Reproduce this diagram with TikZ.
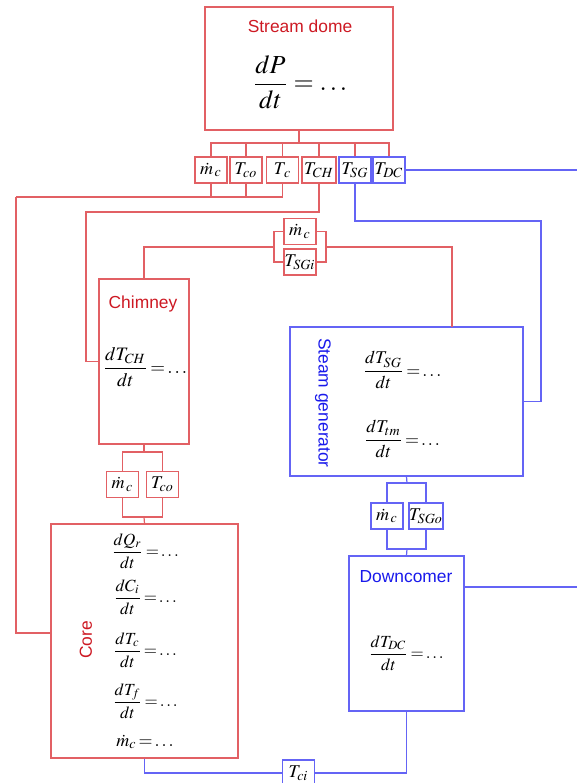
\documentclass[tikz,border=0pt]{standalone}
\usepackage{mathptmx}
\usepackage{fontspec}
\setmainfont{Liberation Serif}
\setsansfont{Liberation Sans}
\definecolor{lred}{RGB}{226,96,100}
\definecolor{tred}{RGB}{205,25,35}
\definecolor{lblue}{RGB}{100,100,245}
\definecolor{tblue}{RGB}{25,25,235}
\newcommand{\eqdots}{\mkern-2mu=\mkern-2mu\ldots}
\tikzset{
  block/.style={draw, line width=0.6pt, inner sep=0pt},
  var/.style={draw, line width=0.6pt, inner sep=0pt, minimum width=16pt, minimum height=13pt, font=\fontsize{9}{10}\selectfont},
  title/.style={inner sep=0pt, font=\fontsize{8.7}{10}\sffamily},
  eq/.style={inner sep=0pt, font=\fontsize{#1}{#1}\selectfont},
  redline/.style={draw=lred, line width=0.6pt},
  blueline/.style={draw=lblue, line width=0.6pt}
}
\begin{document}
\begin{tikzpicture}[x=0.5pt, y=-0.5pt]
      \useasboundingbox (0,0) rectangle (577,783);
      %%dome
      \node[block, draw=lred, minimum width=94pt, minimum height=61.5pt] (dome) at (299,68.5) {};
      \node[title, text=tred] (dometitle) at (300,26) {Stream dome};
      \node[eq=13] (domeeq) at (300,82) {$\displaystyle\frac{dP}{dt}=\ldots$};
        \node[var, draw=lred] (mc1) at (211,170) {$\dot{m}_{\,c}$};
        \node[var, draw=lred] (Tco1) at (246,170) {$T_{co}$};
        \node[var, draw=lred] (Tc1) at (282.5,170) {$T_{\,c}$};
        \node[var, draw=lred, minimum width=17pt] (TCH1) at (319,170) {$T_{CH}$};
        \node[var, draw=lblue] (TSG1) at (355,170) {$T_{SG}$};
        \node[var, draw=lblue] (TDC1) at (389,170) {$T_{DC}$};
      \coordinate (domej) at (299,143);
      \draw[redline] (dome.south) -- (domej);
      \foreach \v in {mc1,Tco1,Tc1,TCH1,TSG1,TDC1}
        \draw[redline] (\v.north) |- (domej);

      %%chimney
      \node[block, draw=lred, minimum width=45pt, minimum height=82.5pt] (chimney) at (144,361.5) {};
      \node[title, text=tred] (chtitle) at (143,304) {Chimney};
      \node[eq=9.5] (cheq) at (145,367) {$\displaystyle\frac{dT_{CH}}{dt}\eqdots$};
        \node[var, draw=lred] (mc2) at (300,231.5) {$\dot{m}_{\,c}$};
        \node[var, draw=lred] (TSGi) at (300,262) {$T_{SGi}$};
      \coordinate (brL) at (274,247);
      \coordinate (brR) at (326,247);
      \draw[redline] (mc2.west) -| (brL) (TSGi.west) -| (brL);
      \draw[redline] (mc2.east) -| (brR) (TSGi.east) -| (brR);
      \draw[redline] (brL) -| (chimney.north);

      %%steam generator
      \node[block, draw=lblue, minimum width=116.5pt, minimum height=74.5pt] (sg) at (406.5,401.5) {};
      \node[title, text=tblue, rotate=-90] (sgtitle) at (323,403) {Steam generator};
      \node[eq=9] (sgeq1) at (402,370) {$\displaystyle\frac{dT_{SG}}{dt}\eqdots$};
      \node[eq=9] (sgeq2) at (402,439) {$\displaystyle\frac{dT_{tm}}{dt}\eqdots$};
      \coordinate (sgtop) at (452,327);
      \draw[redline] (brR) -| (sgtop);

      %%links from dome row
      \coordinate (corej) at (16,197);
      \coordinate (corein) at (16,633);
      \foreach \v in {mc1,Tco1,Tc1}
        \draw[redline] (\v.south) |- (corej);
      \coordinate (chj) at (86,212);
      \draw[redline] (TCH1.south) |- (chj) |- (chimney.west);
      \coordinate (sgj) at (541,221);
      \draw[blueline] (TSG1.south) |- (sgj) |- (sg.east);
      \coordinate (dcout1) at (577,170);
      \draw[blueline] (TDC1.east) -- (dcout1);

      %%chimney to core
        \node[var, draw=lred] (mc3) at (122.5,484.5) {$\dot{m}_{\,c}$};
        \node[var, draw=lred] (Tco3) at (162.5,484.5) {$T_{co}$};
      \coordinate (chb) at (144,452);
      \coordinate (cot) at (144,517);
      \draw[redline] (chimney.south) -- (chb);
      \draw[redline] (mc3.north) |- (chb) -| (Tco3.north);
      \draw[redline] (mc3.south) |- (cot) -| (Tco3.south);

      %%core
      \node[block, draw=lred, minimum width=93.5pt, minimum height=117pt] (core) at (144.5,641) {};
      \node[title, text=tred, rotate=90] (coretitle) at (86,640) {Core};
      \node[eq=8.5] (coreeq1) at (145,551) {$\displaystyle\frac{dQ_r}{dt}\eqdots$};
      \node[eq=8.5] (coreeq2) at (145,597) {$\displaystyle\frac{dC_i}{dt}\eqdots$};
      \node[eq=8.5] (coreeq3) at (145,650) {$\displaystyle\frac{dT_c}{dt}\eqdots$};
      \node[eq=8.5] (coreeq4) at (145,701) {$\displaystyle\frac{dT_f}{dt}\eqdots$};
      \node[eq=9] (coreeq5) at (145,742) {$\dot{m}_c\eqdots$};
      \draw[redline] (cot) -- (core.north);
      \draw[redline] (corej) -- (corein) -- (corein -| core.west);

      %%sg to downcomer
        \node[var, draw=lblue] (mc4) at (387,516) {$\dot{m}_{\,c}$};
        \node[var, draw=lblue] (TSGo) at (426,516) {$T_{SGo}$};
      \coordinate (sgb) at (407,483);
      \coordinate (dct) at (407,549);
      \draw[blueline] (sg.south) -- (sgb);
      \draw[blueline] (mc4.north) |- (sgb) -| (TSGo.north);
      \draw[blueline] (mc4.south) |- (dct) -| (TSGo.south);

      %%downcomer
      \node[block, draw=lblue, minimum width=57.5pt, minimum height=77.5pt] (dc) at (406.5,633.5) {};
      \node[title, text=tblue] (dctitle) at (406,577) {Downcomer};
      \node[eq=8.5] (dceq) at (406,653) {$\displaystyle\frac{dT_{DC}}{dt}\eqdots$};
      \draw[blueline] (dct) -- (dc.north);
      \coordinate (dcout2) at (577,587);
      \draw[blueline] (dc.east |- dcout2) -- (dcout2);

      %%core inlet
        \node[var, draw=lblue] (Tci) at (298.5,773) {$T_{ci}$};
      \draw[blueline] (dc.south) |- (Tci.east);
      \draw[blueline] (core.south) |- (Tci.west);
\end{tikzpicture}
\end{document}
